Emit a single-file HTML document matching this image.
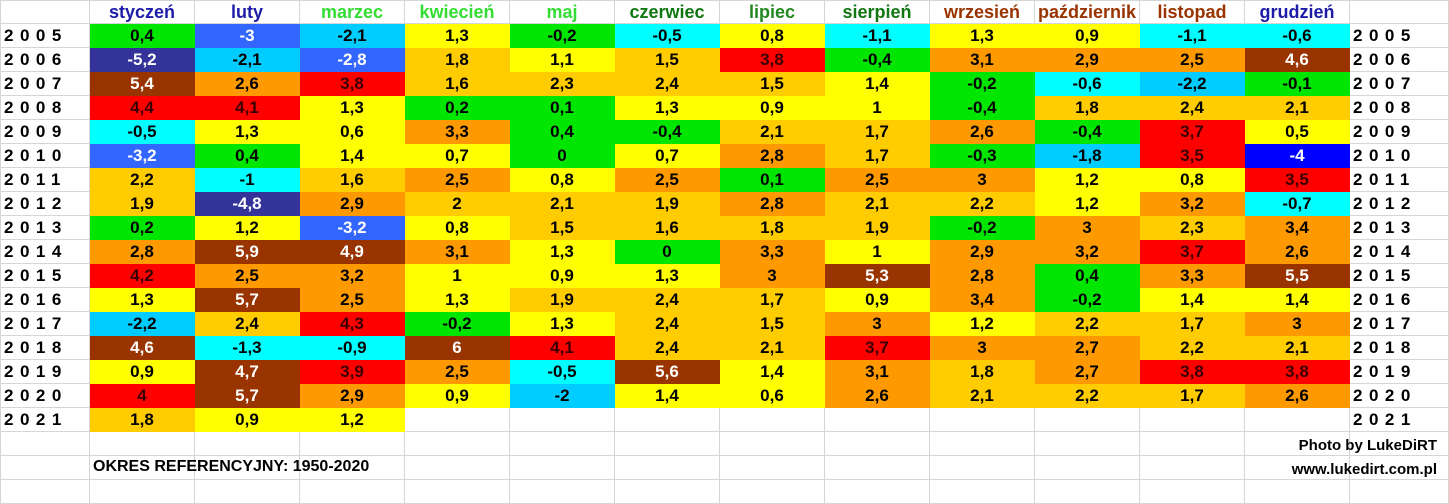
<!DOCTYPE html><html><head><meta charset="utf-8"><style>
body{margin:0;background:#fff;width:1449px;height:492px;overflow:hidden;font-family:"Liberation Sans",Arial,sans-serif;position:relative}
table{border-collapse:collapse;table-layout:fixed;position:absolute;left:0;top:0}
td{border:1px solid #d6d6d6;padding:0;height:23px;text-align:center;font-weight:bold;font-size:17px;line-height:22px;white-space:nowrap;overflow:hidden}
tr.h td{height:21px;font-size:18px}
td.y{text-align:left;padding-left:3px;letter-spacing:6.5px;font-size:17px}
.G{background:#00e600;border-color:#00e600}.A{background:#00ffff;border-color:#00ffff}.C{background:#00ccff;border-color:#00ccff}
.B{background:#3366ff;border-color:#3366ff;color:#fff}.N{background:#333399;border-color:#333399;color:#fff}.D{background:#0000ff;border-color:#0000ff;color:#fff}
.Y{background:#ffff00;border-color:#ffff00}.O{background:#ffcc00;border-color:#ffcc00}.R{background:#ff9900;border-color:#ff9900}
.X{background:#ff0000;border-color:#ff0000;color:#3a0000}.W{background:#993300;border-color:#993300;color:#fff}
.t{position:absolute;font-weight:bold;font-size:16px}
</style></head><body>
<table>
<colgroup><col style="width:89px"><col style="width:105px"><col style="width:105px"><col style="width:105px"><col style="width:105px"><col style="width:105px"><col style="width:105px"><col style="width:105px"><col style="width:105px"><col style="width:105px"><col style="width:105px"><col style="width:105px"><col style="width:105px"><col style="width:99px"></colgroup>
<tr class="h"><td></td><td style="color:#1c1ca8">styczeń</td><td style="color:#1c1ca8">luty</td><td style="color:#33dd33">marzec</td><td style="color:#33dd33">kwiecień</td><td style="color:#33dd33">maj</td><td style="color:#117711">czerwiec</td><td style="color:#228822">lipiec</td><td style="color:#117711">sierpień</td><td style="color:#993300">wrzesień</td><td style="color:#993300">październik</td><td style="color:#993300">listopad</td><td style="color:#1c1ca8">grudzień</td><td></td></tr>
<tr><td class="y">2005</td><td class="G">0,4</td><td class="B">-3</td><td class="C">-2,1</td><td class="Y">1,3</td><td class="G">-0,2</td><td class="A">-0,5</td><td class="Y">0,8</td><td class="A">-1,1</td><td class="Y">1,3</td><td class="Y">0,9</td><td class="A">-1,1</td><td class="A">-0,6</td><td class="y">2005</td></tr>
<tr><td class="y">2006</td><td class="N">-5,2</td><td class="C">-2,1</td><td class="B">-2,8</td><td class="O">1,8</td><td class="Y">1,1</td><td class="O">1,5</td><td class="X">3,8</td><td class="G">-0,4</td><td class="R">3,1</td><td class="R">2,9</td><td class="R">2,5</td><td class="W">4,6</td><td class="y">2006</td></tr>
<tr><td class="y">2007</td><td class="W">5,4</td><td class="R">2,6</td><td class="X">3,8</td><td class="O">1,6</td><td class="O">2,3</td><td class="O">2,4</td><td class="O">1,5</td><td class="Y">1,4</td><td class="G">-0,2</td><td class="A">-0,6</td><td class="C">-2,2</td><td class="G">-0,1</td><td class="y">2007</td></tr>
<tr><td class="y">2008</td><td class="X">4,4</td><td class="X">4,1</td><td class="Y">1,3</td><td class="G">0,2</td><td class="G">0,1</td><td class="Y">1,3</td><td class="Y">0,9</td><td class="Y">1</td><td class="G">-0,4</td><td class="O">1,8</td><td class="O">2,4</td><td class="O">2,1</td><td class="y">2008</td></tr>
<tr><td class="y">2009</td><td class="A">-0,5</td><td class="Y">1,3</td><td class="Y">0,6</td><td class="R">3,3</td><td class="G">0,4</td><td class="G">-0,4</td><td class="O">2,1</td><td class="O">1,7</td><td class="R">2,6</td><td class="G">-0,4</td><td class="X">3,7</td><td class="Y">0,5</td><td class="y">2009</td></tr>
<tr><td class="y">2010</td><td class="B">-3,2</td><td class="G">0,4</td><td class="Y">1,4</td><td class="Y">0,7</td><td class="G">0</td><td class="Y">0,7</td><td class="R">2,8</td><td class="O">1,7</td><td class="G">-0,3</td><td class="C">-1,8</td><td class="X">3,5</td><td class="D">-4</td><td class="y">2010</td></tr>
<tr><td class="y">2011</td><td class="O">2,2</td><td class="A">-1</td><td class="O">1,6</td><td class="R">2,5</td><td class="Y">0,8</td><td class="R">2,5</td><td class="G">0,1</td><td class="R">2,5</td><td class="R">3</td><td class="Y">1,2</td><td class="Y">0,8</td><td class="X">3,5</td><td class="y">2011</td></tr>
<tr><td class="y">2012</td><td class="O">1,9</td><td class="N">-4,8</td><td class="R">2,9</td><td class="O">2</td><td class="O">2,1</td><td class="O">1,9</td><td class="R">2,8</td><td class="O">2,1</td><td class="O">2,2</td><td class="Y">1,2</td><td class="R">3,2</td><td class="A">-0,7</td><td class="y">2012</td></tr>
<tr><td class="y">2013</td><td class="G">0,2</td><td class="Y">1,2</td><td class="B">-3,2</td><td class="Y">0,8</td><td class="O">1,5</td><td class="O">1,6</td><td class="O">1,8</td><td class="O">1,9</td><td class="G">-0,2</td><td class="R">3</td><td class="O">2,3</td><td class="R">3,4</td><td class="y">2013</td></tr>
<tr><td class="y">2014</td><td class="R">2,8</td><td class="W">5,9</td><td class="W">4,9</td><td class="R">3,1</td><td class="Y">1,3</td><td class="G">0</td><td class="R">3,3</td><td class="Y">1</td><td class="R">2,9</td><td class="R">3,2</td><td class="X">3,7</td><td class="R">2,6</td><td class="y">2014</td></tr>
<tr><td class="y">2015</td><td class="X">4,2</td><td class="R">2,5</td><td class="R">3,2</td><td class="Y">1</td><td class="Y">0,9</td><td class="Y">1,3</td><td class="R">3</td><td class="W">5,3</td><td class="R">2,8</td><td class="G">0,4</td><td class="R">3,3</td><td class="W">5,5</td><td class="y">2015</td></tr>
<tr><td class="y">2016</td><td class="Y">1,3</td><td class="W">5,7</td><td class="R">2,5</td><td class="Y">1,3</td><td class="O">1,9</td><td class="O">2,4</td><td class="O">1,7</td><td class="Y">0,9</td><td class="R">3,4</td><td class="G">-0,2</td><td class="Y">1,4</td><td class="Y">1,4</td><td class="y">2016</td></tr>
<tr><td class="y">2017</td><td class="C">-2,2</td><td class="O">2,4</td><td class="X">4,3</td><td class="G">-0,2</td><td class="Y">1,3</td><td class="O">2,4</td><td class="O">1,5</td><td class="R">3</td><td class="Y">1,2</td><td class="O">2,2</td><td class="O">1,7</td><td class="R">3</td><td class="y">2017</td></tr>
<tr><td class="y">2018</td><td class="W">4,6</td><td class="A">-1,3</td><td class="A">-0,9</td><td class="W">6</td><td class="X">4,1</td><td class="O">2,4</td><td class="O">2,1</td><td class="X">3,7</td><td class="R">3</td><td class="R">2,7</td><td class="O">2,2</td><td class="O">2,1</td><td class="y">2018</td></tr>
<tr><td class="y">2019</td><td class="Y">0,9</td><td class="W">4,7</td><td class="X">3,9</td><td class="R">2,5</td><td class="A">-0,5</td><td class="W">5,6</td><td class="Y">1,4</td><td class="R">3,1</td><td class="O">1,8</td><td class="R">2,7</td><td class="X">3,8</td><td class="X">3,8</td><td class="y">2019</td></tr>
<tr><td class="y">2020</td><td class="X">4</td><td class="W">5,7</td><td class="R">2,9</td><td class="Y">0,9</td><td class="C">-2</td><td class="Y">1,4</td><td class="Y">0,6</td><td class="R">2,6</td><td class="O">2,1</td><td class="O">2,2</td><td class="O">1,7</td><td class="R">2,6</td><td class="y">2020</td></tr>
<tr><td class="y">2021</td><td class="O">1,8</td><td class="Y">0,9</td><td class="Y">1,2</td><td></td><td></td><td></td><td></td><td></td><td></td><td></td><td></td><td></td><td class="y">2021</td></tr>
<tr><td></td><td></td><td></td><td></td><td></td><td></td><td></td><td></td><td></td><td></td><td></td><td></td><td></td><td></td></tr>
<tr><td></td><td></td><td></td><td></td><td></td><td></td><td></td><td></td><td></td><td></td><td></td><td></td><td></td><td></td></tr>
<tr><td></td><td></td><td></td><td></td><td></td><td></td><td></td><td></td><td></td><td></td><td></td><td></td><td></td><td></td></tr>
</table>
<div class="t" style="left:93px;top:458px">OKRES REFERENCYJNY: 1950-2020</div>
<div class="t" style="right:12px;top:437px;text-align:right;font-size:15px">Photo by LukeDiRT</div>
<div class="t" style="right:12px;top:461px;text-align:right;font-size:15px">www.lukedirt.com.pl</div>
</body></html>
